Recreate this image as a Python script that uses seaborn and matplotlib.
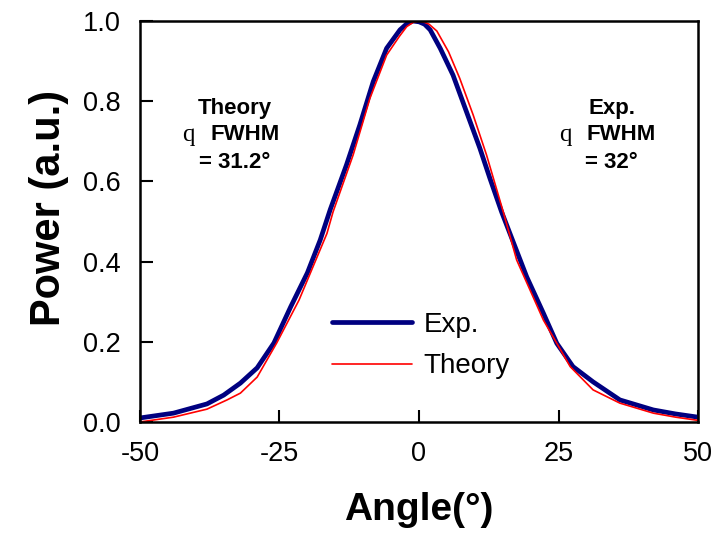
import matplotlib
matplotlib.use("Agg")
import matplotlib.pyplot as plt
import seaborn as sns
import pandas as pd

exp_x = [-50, -44, -38, -35, -32, -29, -26, -23, -20, -17.7, -15.9, -13, -10.6, -8.2,
         -5.8, -3.4, -2.2, -1.1, 0.0, 1.0, 2.0, 3.8, 6.1, 8.5, 10.9, 12.7, 14.8, 16.3,
         19.3, 22.3, 24.7, 27.6, 31.2, 36, 42, 46, 50]
exp_y = [0.01, 0.022, 0.045, 0.067, 0.097, 0.135, 0.197, 0.287, 0.372, 0.454, 0.53,
         0.641, 0.741, 0.849, 0.932, 0.978, 0.993, 1.0, 0.998, 0.992, 0.978, 0.932,
         0.865, 0.774, 0.683, 0.608, 0.524, 0.47, 0.362, 0.271, 0.196, 0.138, 0.10,
         0.055, 0.030, 0.02, 0.012]

theory_x = [-50, -44, -38, -34.4, -32, -29, -25.5, -21.5, -16.5, -15.4, -11.8, -8.8,
            -5.8, -3.5, -2.2, -1.0, 0, 0.8, 1.8, 3.2, 5.3, 7.3, 9.7, 12.1, 15.1, 17.5,
            22.3, 27.1, 31.2, 36, 42, 46, 50]
theory_y = [0.0, 0.012, 0.032, 0.055, 0.072, 0.112, 0.197, 0.304, 0.47, 0.524, 0.666,
            0.807, 0.915, 0.962, 0.986, 0.997, 1.0, 0.998, 0.992, 0.975, 0.923, 0.857,
            0.766, 0.666, 0.524, 0.404, 0.254, 0.138, 0.08, 0.047, 0.022, 0.012, 0.004]

x_ticks = [-50, -25, 0, 25, 50]
y_ticks = [0.0, 0.2, 0.4, 0.6, 0.8, 1.0]

sns.set_style("white")
plt.rcParams["font.family"] = ["Liberation Sans", "DejaVu Sans"]
plt.rcParams["text.color"] = "black"
plt.rcParams["axes.labelcolor"] = "black"

fig = plt.figure(figsize=(7.19, 5.33), dpi=100)
ax = fig.add_axes([0.1947, 0.2083, 0.7761, 0.7523])

df_exp = pd.DataFrame({"Angle": exp_x, "Power": exp_y})
df_th = pd.DataFrame({"Angle": theory_x, "Power": theory_y})

sns.lineplot(data=df_exp, x="Angle", y="Power", ax=ax, color="#000080",
             linewidth=3.4, label="Exp.", sort=False)
sns.lineplot(data=df_th, x="Angle", y="Power", ax=ax, color="#FF0000",
             linewidth=1.2, label="Theory", sort=False)

ax.set_xlim(-50, 50)
ax.set_ylim(0, 1.0)
ax.set_xticks(x_ticks)
ax.set_xticklabels([str(t) for t in x_ticks])
ax.set_yticks(y_ticks)
ax.set_yticklabels([f"{t:.1f}" for t in y_ticks])
ax.tick_params(axis="both", direction="in", length=9, width=1.5,
               labelsize=19.5, colors="black", bottom=True, left=True)
ax.tick_params(axis="x", pad=14)
ax.tick_params(axis="y", pad=14)
for s in ax.spines.values():
    s.set_visible(True)
    s.set_color("black")
    s.set_linewidth(1.8)

ax.set_xlabel("Angle(°)", fontsize=28, fontweight="bold")
ax.set_ylabel("Power (a.u.)", fontsize=30, fontweight="bold")
ax.xaxis.set_label_coords(0.5, -0.175)
ax.yaxis.set_label_coords(-0.128, 0.535)

leg = ax.legend(loc="center", bbox_to_anchor=(0.503, 0.19), frameon=False,
                fontsize=20, handlelength=2.9, handletextpad=0.4, labelspacing=0.55)
for t in leg.get_texts():
    t.set_color("black")

def annot(xc, title, value):
    ax.text(xc, 0.783, title, ha="center", va="center", fontsize=16,
            fontweight="bold")
    ax.text(xc - 8.3, 0.716, "q", ha="center", va="center", fontsize=18,
            family="Liberation Serif")
    ax.text(xc + 1.8, 0.716, "FWHM", ha="center", va="center", fontsize=16,
            fontweight="bold")
    ax.text(xc, 0.648, value, ha="center", va="center", fontsize=16,
            fontweight="bold")

annot(-33.0, "Theory", "= 31.2°")
annot(34.5, "Exp.", "= 32°")

fig.savefig("out.png", dpi=100)
